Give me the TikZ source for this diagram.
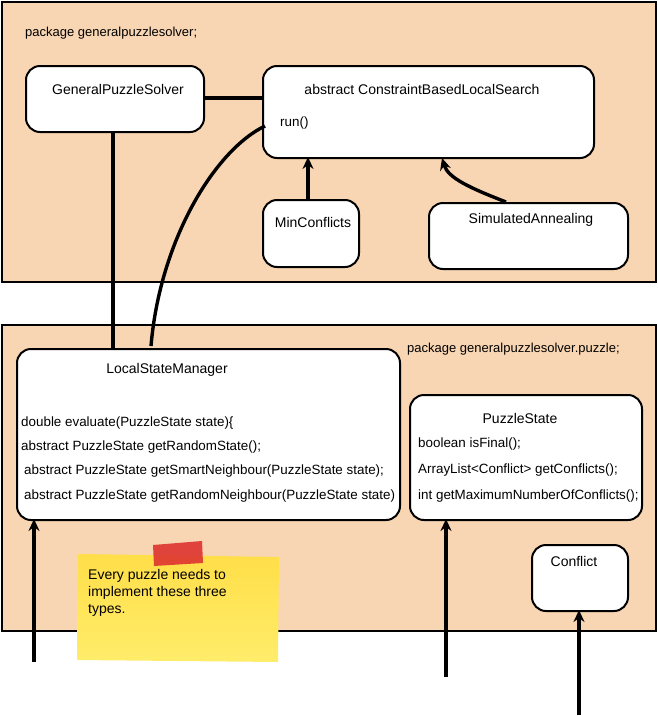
\documentclass[tikz,border=0pt]{standalone}
\usepackage{fontspec}
\setmainfont{Liberation Sans}
\usetikzlibrary{arrows.meta,calc}
\definecolor{peach}{RGB}{249,214,179}
\definecolor{notey}{RGB}{255,233,80}
\definecolor{tape}{RGB}{222,52,48}
\tikzset{
  pkg/.style={draw=black,line width=2.4pt,fill=peach},
  cls/.style={draw=black,line width=2pt,fill=white,rounded corners=14pt,anchor=north west,inner sep=0pt},
  ttl/.style={font=\fontsize{14}{16}\selectfont,inner sep=0pt},
  mth/.style={font=\fontsize{13.4}{15}\selectfont,inner sep=0pt,anchor=west},
  lbl/.style={font=\fontsize{13}{15}\selectfont,inner sep=0pt,anchor=west},
  conn/.style={line width=3.4pt,draw=black},
  inh/.style={line width=3.4pt,draw=black,-{Stealth[length=12pt,width=11pt]}},
}
\begin{document}
\begin{tikzpicture}[x=1pt,y=-1pt]
\useasboundingbox (0,0) rectangle (658,716);
% packages
\path[pkg] (2,2) rectangle (656,282);
\path[pkg] (2,325) rectangle (656,631);
\node[lbl] (pk1) at (25,33) {package generalpuzzlesolver;};
\node[lbl] (pk2) at (407,349) {package generalpuzzlesolver.puzzle;};
% top classes
\node[cls,minimum width=178pt,minimum height=66pt] (gps) at (25,65) {};
\node[ttl] (gpst) at (118,89) {GeneralPuzzleSolver};
\node[cls,minimum width=331pt,minimum height=92pt] (cbls) at (262,65) {};
\node[ttl] (cblst) at (422,89) {abstract ConstraintBasedLocalSearch};
\node[mth] (run) at (280,123) {run()};
\node[cls,minimum width=96pt,minimum height=67pt] (mc) at (262,199) {};
\node[ttl] (mct) at (313,222) {MinConflicts};
\node[cls,minimum width=199pt,minimum height=66pt] (sa) at (428,202) {};
\node[ttl] (sat) at (531,220) {SimulatedAnnealing};
% bottom classes
\node[cls,minimum width=383pt,minimum height=171pt] (lsm) at (16,348) {};
\node[ttl] (lsmt) at (167,370) {LocalStateManager};
\node[mth] (m1) at (21,423) {double evaluate(PuzzleState state)\{};
\node[mth] (m2) at (21,447) {abstract PuzzleState getRandomState();};
\node[mth] (m3) at (24,471) {abstract PuzzleState getSmartNeighbour(PuzzleState state);};
\node[mth] (m4) at (24,496) {abstract PuzzleState getRandomNeighbour(PuzzleState state)};
\node[cls,minimum width=232pt,minimum height=125pt] (ps) at (409,394) {};
\node[ttl] (pst) at (520,418) {PuzzleState};
\node[mth] (p1) at (418,444) {boolean isFinal();};
\node[mth] (p2) at (418,470) {ArrayList<Conflict> getConflicts();};
\node[mth] (p3) at (418,496) {int getMaximumNumberOfConflicts();};
\node[cls,minimum width=96pt,minimum height=66pt] (cf) at (531,544) {};
\node[ttl] (cft) at (574,561) {Conflict};
% connectors
\draw[conn] (gps.east |- 0,98) -- (cbls.west |- 0,98);
\draw[conn] (gps.south -| 113,0) -- (113,348);
\coordinate (cstart) at (265,126);
\coordinate (cend) at (151,346);
\draw[conn] (cstart) .. controls (215,150) and (160,240) .. (cend);
\draw[inh] (mc.north -| 308,0) -- (308,157);
\coordinate (sas) at (506,202);
\coordinate (sae) at (442,158);
\draw[inh] (sas) .. controls (470,188) and (448,178) .. (sae);
% free-ended arrows
\coordinate (a1) at (34,662);
\coordinate (a2) at (446,677);
\coordinate (a3) at (579,715);
\draw[inh] (a1) -- (34,519);
\draw[inh] (a2) -- (446,519);
\draw[inh] (a3) -- (579,610);
% sticky note
\shade[top color=notey!90!orange,bottom color=notey!85!white] (78,554) -- (279,557) -- (278,662) -- (77,660) -- cycle;
\fill[tape,opacity=0.9] (153,545) -- (202,541) -- (203,563) -- (154,566) -- cycle;
\node[font=\fontsize{14}{17}\selectfont,align=left,anchor=north west,inner sep=0pt] (note) at (88,569) {Every puzzle needs to\\implement these three\\types.};
\end{tikzpicture}
\end{document}
